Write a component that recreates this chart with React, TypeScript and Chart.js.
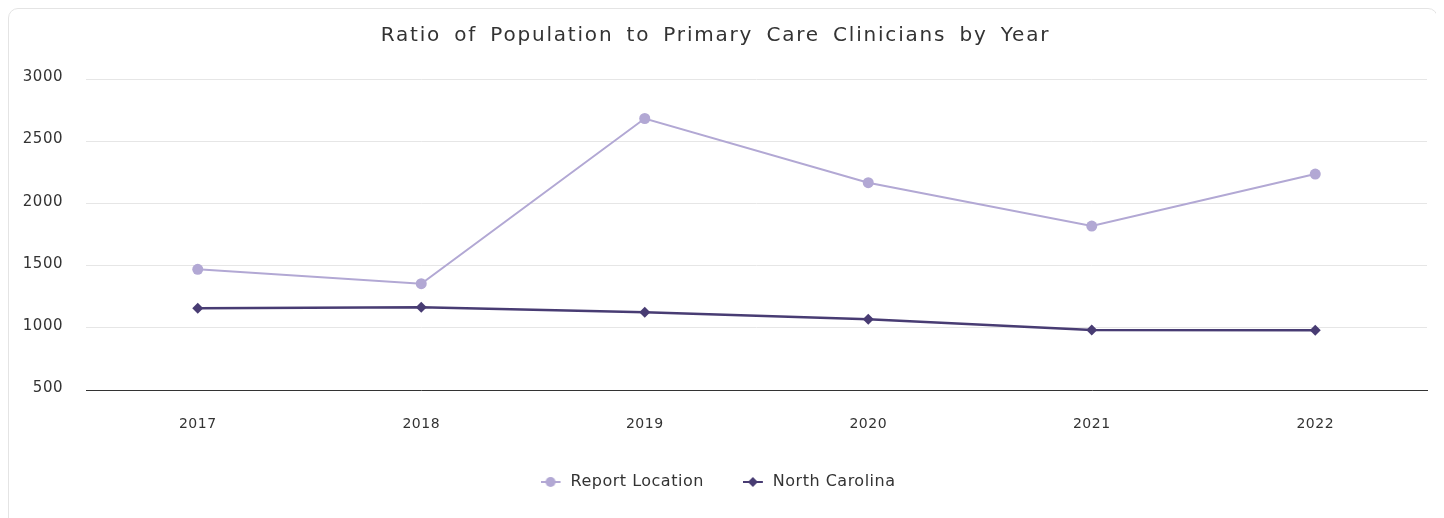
import React, { useEffect, useRef } from 'react';
import { Chart, registerables } from 'chart.js';

Chart.register(...registerables);

const years = ['2017', '2018', '2019', '2020', '2021', '2022'];
const reportLocation = [1472, 1356, 2686, 2169, 1820, 2239];
const northCarolina = [1158, 1166, 1126, 1069, 983, 981];
const yMin = 500;
const yMax = 3000;
const yStep = 500;
const titleText = 'Ratio of Population to Primary Care Clinicians by Year';
const seriesNames = ['Report Location', 'North Carolina'];

const LIGHT = '#b2a8d4';
const DARK = '#483c73';
const TEXT = '#333333';
const FONT = "'DejaVu Sans', sans-serif";

function makeSymbol(color: string, style: 'circle' | 'diamond') {
  // 20px line-and-marker symbol, 2px tail before the text
  const c = document.createElement('canvas');
  c.width = 22;
  c.height = 12;
  const ctx = c.getContext('2d')!;
  ctx.strokeStyle = color;
  ctx.lineWidth = 2;
  ctx.beginPath();
  ctx.moveTo(0, 6);
  ctx.lineTo(20, 6);
  ctx.stroke();
  ctx.fillStyle = color;
  ctx.beginPath();
  if (style === 'circle') {
    ctx.arc(10, 6, 5, 0, Math.PI * 2);
  } else {
    ctx.moveTo(10, 1);
    ctx.lineTo(15, 6);
    ctx.lineTo(10, 11);
    ctx.lineTo(5, 6);
    ctx.closePath();
  }
  ctx.fill();
  return c;
}

const spacingPlugin = {
  id: 'spacing',
  beforeUpdate(chart: any) {
    chart.ctx.letterSpacing = '0.5px';
  },
  beforeDraw(chart: any) {
    chart.ctx.letterSpacing = '0.5px';
  },
  afterDraw(chart: any) {
    const ctx = chart.ctx;
    ctx.save();
    ctx.font = `normal 20px ${FONT}`;
    ctx.letterSpacing = '1.8px';
    try {
      (ctx as any).wordSpacing = '5px';
    } catch (e) {}
    ctx.fillStyle = TEXT;
    ctx.textAlign = 'center';
    ctx.textBaseline = 'middle';
    ctx.fillText(titleText, 706.5, 27);
    ctx.restore();
  },
};

export default function App() {
  const ref = useRef<HTMLCanvasElement>(null);

  useEffect(() => {
    if (!ref.current) return;
    const symbols = [makeSymbol(LIGHT, 'circle'), makeSymbol(DARK, 'diamond')];
    const chart = new Chart(ref.current, {
      type: 'line',
      data: {
        labels: years,
        datasets: [
          {
            label: seriesNames[0],
            data: reportLocation,
            borderColor: LIGHT,
            backgroundColor: LIGHT,
            borderWidth: 2,
            pointStyle: 'circle',
            pointRadius: 5.5,
            pointBorderWidth: 0,
          },
          {
            label: seriesNames[1],
            data: northCarolina,
            borderColor: DARK,
            backgroundColor: DARK,
            borderWidth: 2.5,
            pointStyle: 'rectRot',
            pointRadius: 5.5,
            pointBorderWidth: 0,
          },
        ],
      },
      plugins: [spacingPlugin],
      options: {
        responsive: false,
        animation: false,
        layout: { padding: { left: 0, right: 10, top: 70.5, bottom: 39 } },
        plugins: {
          title: { display: false },
          legend: {
            position: 'bottom',
            labels: {
              usePointStyle: true,
              pointStyleWidth: 22,
              boxHeight: 12,
              padding: 39,
              color: TEXT,
              font: { family: FONT, size: 16 },
              generateLabels: (ch: any) => {
                const items = Chart.defaults.plugins.legend.labels.generateLabels(ch);
                return items.map((it: any, i: number) => ({ ...it, pointStyle: symbols[i] }));
              },
            },
          },
          tooltip: { enabled: false },
        },
        scales: {
          x: {
            offset: true,
            grid: { display: false, drawTicks: false },
            border: { display: true, color: TEXT, width: 1 },
            ticks: { color: TEXT, font: { family: FONT, size: 14 }, padding: 26 },
            afterFit: (s: any) => {
              s.height = 45;
            },
          },
          y: {
            min: yMin,
            max: yMax,
            ticks: {
              stepSize: yStep,
              color: TEXT,
              font: { family: FONT, size: 15 },
              padding: 23,
              labelOffset: -2,
              callback: (v: any) => String(v),
            },
            grid: { color: '#e6e6e6', drawTicks: false },
            border: { display: false },
            afterFit: (s: any) => {
              s.width = 77;
            },
          },
        },
      },
    });
    return () => chart.destroy();
  }, []);

  return (
    <div
      style={{
        width: 1428,
        border: '1px solid #e4e4e4',
        borderRadius: 10,
        background: '#fff',
      }}
    >
      <canvas ref={ref} width={1428} height={530} style={{ display: 'block' }} />
    </div>
  );
}
